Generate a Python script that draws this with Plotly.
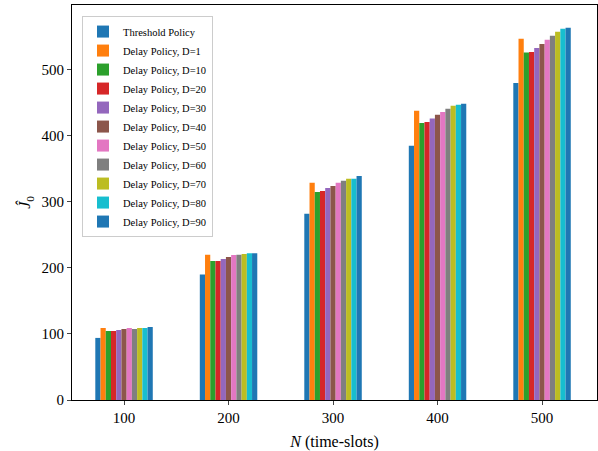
import plotly.graph_objects as go

N_values = [100, 200, 300, 400, 500]
series_names = ["Threshold Policy", "Delay Policy, D=1", "Delay Policy, D=10", "Delay Policy, D=20",
                "Delay Policy, D=30", "Delay Policy, D=40", "Delay Policy, D=50", "Delay Policy, D=60",
                "Delay Policy, D=70", "Delay Policy, D=80", "Delay Policy, D=90"]
threshold = [94, 190, 282, 385, 480]
d1 = [109, 220, 329, 438, 547]
d10 = [104.5, 210.5, 315, 419.5, 526]
d20 = [104.5, 210.5, 316.5, 421, 527]
d30 = [106, 213.5, 321, 426, 533]
d40 = [107.5, 216.5, 324, 432, 539]
d50 = [109, 219.5, 329, 436, 545.5]
d60 = [107.5, 220, 332, 441, 551.5]
d70 = [109, 221, 335, 445.5, 557.5]
d80 = [109, 222, 335, 447, 562]
d90 = [110.5, 222, 339, 448.5, 563.5]
series_values = [threshold, d1, d10, d20, d30, d40, d50, d60, d70, d80, d90]
y_ticks = [0, 100, 200, 300, 400, 500]

colors = ["#1f77b4", "#ff7f0e", "#2ca02c", "#d62728", "#9467bd", "#8c564b",
          "#e377c2", "#7f7f7f", "#bcbd22", "#17becf", "#1f77b4"]

font_family = "Liberation Serif"

fig = go.Figure()
for name, vals, c in zip(series_names, series_values, colors):
    fig.add_trace(go.Bar(x=N_values, y=vals, name=name, marker=dict(color=c, line=dict(width=0))))

fig.update_layout(
    width=598, height=451,
    margin=dict(l=72, r=1, t=5, b=51, autoexpand=False),
    plot_bgcolor="white", paper_bgcolor="white",
    barmode="group", bargap=0.45, bargroupgap=0,
    font=dict(family=font_family, size=15, color="black"),
    showlegend=True,
    legend=dict(x=0.019, y=0.972, xanchor="left", yanchor="top",
                bgcolor="white", bordercolor="#cccccc", borderwidth=1,
                font=dict(family=font_family, size=10.5), tracegroupgap=0,
                itemwidth=30),
    xaxis=dict(range=[50.2, 552.6], tickvals=N_values, ticks="outside", ticklen=4,
               showline=True, linecolor="black", linewidth=1, mirror=True, showgrid=False,
               zeroline=False, tickfont=dict(size=15), automargin=False,
               title=dict(text="<i>N</i> (time-slots)", font=dict(size=16))),
    yaxis=dict(range=[0, 598], tickvals=y_ticks, ticks="outside", ticklen=4,
               showline=True, linecolor="black", linewidth=1, mirror=True, showgrid=False,
               zeroline=False, tickfont=dict(size=15), automargin=True,
               title=dict(text="<i>Ĵ</i><sub>0</sub>", font=dict(size=16), standoff=6)),
)

fig.write_html("out.html", config={"displayModeBar": False},
               post_script="document.body.style.margin='0';document.body.style.overflow='hidden';")
